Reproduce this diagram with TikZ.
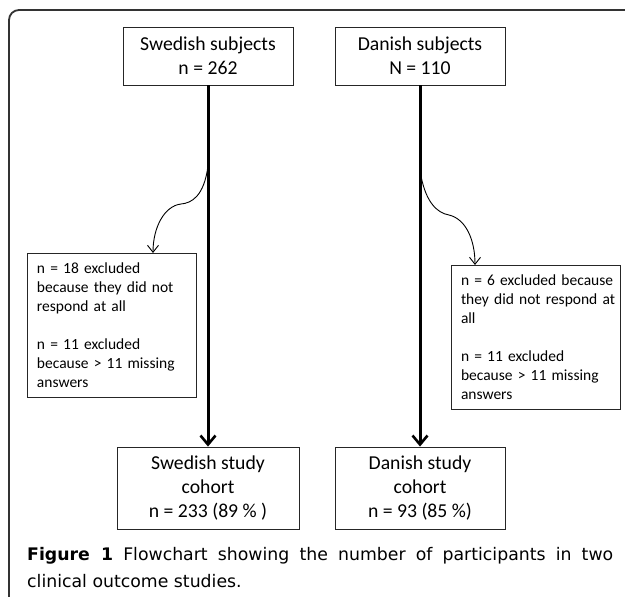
\documentclass[tikz,border=0pt]{standalone}
\usepackage{fontspec}
\setmainfont{Carlito}
\newfontfamily\capfont{DejaVu Sans}
\usetikzlibrary{arrows.meta}
\begin{document}
\begin{tikzpicture}[x=1pt,y=-1pt,
  boxstyle/.style={draw=black!85,line width=0.9pt,rectangle,inner sep=0pt,align=center,
    font=\fontsize{19.7}{23.8}\selectfont},
  exclbox/.style={draw=black!85,line width=0.9pt,rectangle,inner xsep=10pt,inner ysep=0pt,
    align=left,text width=149pt,minimum width=169pt,minimum height=144pt,
    font=\fontsize{15.5}{18.9}\selectfont},
  mainarrow/.style={line width=3pt,-{Straight Barb[length=9pt,width=15pt,line width=2.6pt]}},
  sidearrow/.style={line width=0.9pt,-{Straight Barb[length=7pt,width=11pt,line width=0.9pt]}}
]
\useasboundingbox (0,0) rectangle (625,597);
\fill[white] (0,0) rectangle (625,597);
% frame
\draw[line width=1.8pt,black!80,rounded corners=10pt] (9,600) -- (9,10) -- (628,10);

% top boxes
\node[boxstyle,minimum width=170pt,minimum height=58pt] (sw) at (208,56) {Swedish subjects\\n = 262};
\node[boxstyle,minimum width=170pt,minimum height=58pt] (dk) at (420,56) {Danish subjects\\N = 110};

% bottom boxes
\node[boxstyle,minimum width=182pt,minimum height=82pt] (swc) at (208,488) {Swedish study\\cohort\\n = 233 (89 \% )};
\node[boxstyle,minimum width=170pt,minimum height=82pt] (dkc) at (420,488) {Danish study\\cohort\\n = 93 (85 \%)};

% exclusion boxes
\node[exclbox] (swx) at (111.5,325) {\mbox{n = 18 excluded}\\\mbox{because they did not}\\\mbox{respond at all}\\[18.9pt]\mbox{n = 11 excluded}\\\mbox{because > 11 missing}\\\mbox{answers}};
\node[exclbox] (dkx) at (535.5,337) {\mbox{n = 6 excluded because}\\\mbox{they did not respond at}\\\mbox{all}\\[18.9pt]\mbox{n = 11 excluded}\\\mbox{because > 11 missing}\\\mbox{answers}};

% main arrows
\draw[mainarrow] (sw.south) -- (swc.north);
\draw[mainarrow] (dk.south) -- (dkc.north);

% branch points
\coordinate (swb) at (208,166);
\coordinate (dkb) at (421,176);
\coordinate (swxt) at (153,253);
\coordinate (dkxt) at (475,265);

\draw[sidearrow] (swb) .. controls (204,196) and (192,203) .. (181,204)
  .. controls (164,206) and (153,228) .. (swxt);
\draw[sidearrow] (dkb) .. controls (426,202) and (437,213) .. (449,215)
  .. controls (466,219) and (475,240) .. (dkxt);

% caption
\node[anchor=base west,inner sep=0pt] (cap) at (27,560) {\parbox[t]{586pt}{\capfont\fontsize{17.3}{27}\selectfont\noindent
\textbf{Figure 1} Flowchart showing the number of participants in two\linebreak
clinical outcome studies.}};
\end{tikzpicture}
\end{document}
